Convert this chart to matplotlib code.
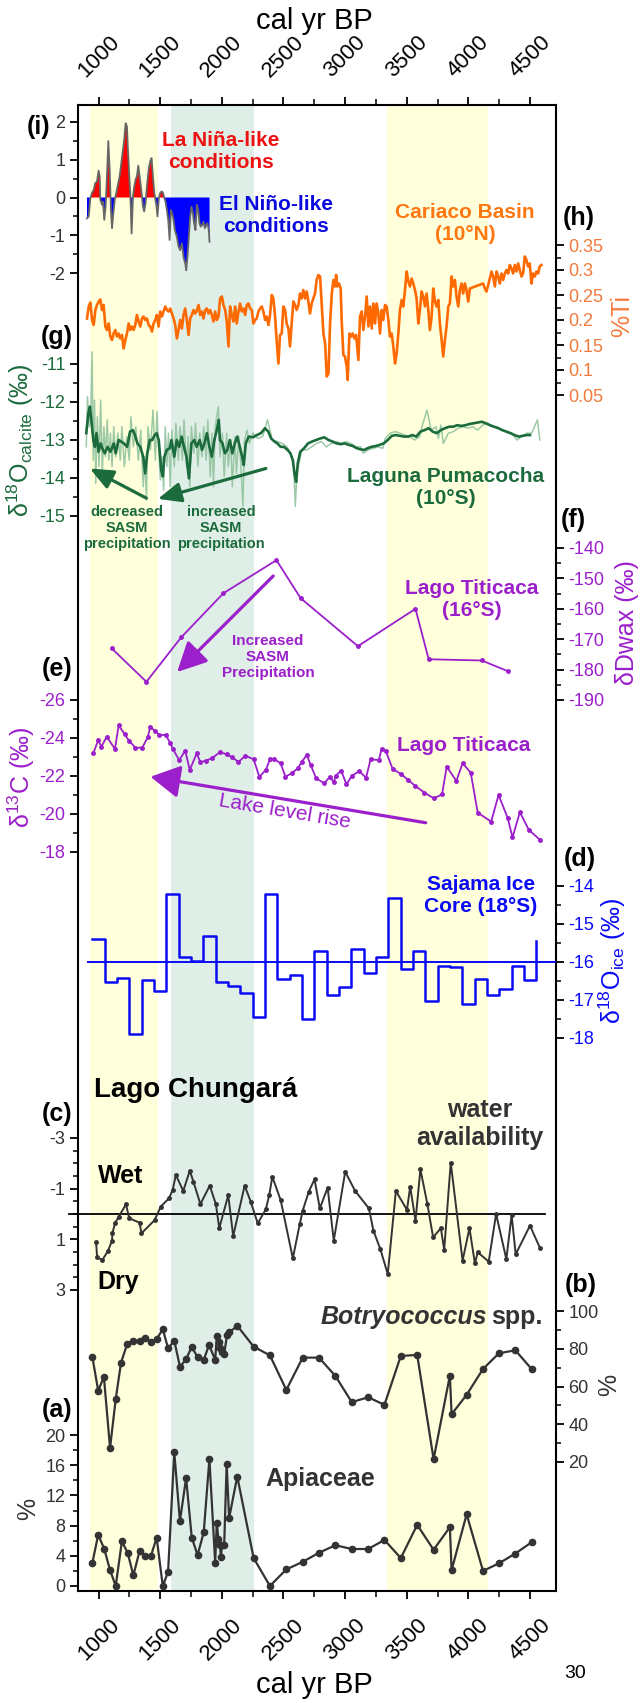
import matplotlib
matplotlib.use("Agg")
import matplotlib.pyplot as plt
import numpy as np

plt.rcParams['font.family'] = ['Liberation Sans', 'DejaVu Sans']
plt.rcParams['mathtext.fontset'] = 'custom'
plt.rcParams['mathtext.rm'] = 'Liberation Sans'
plt.rcParams['mathtext.it'] = 'Liberation Sans:italic'
plt.rcParams['mathtext.bf'] = 'Liberation Sans:bold'
plt.rcParams['axes.unicode_minus'] = False

# ---- data (cal yr BP) ----
# shaded intervals
yellow_bands = [(927, 1486), (3342, 4160)]
green_bands = [(1587, 2259)]

# (i) ENSO-like index
enso_yr = [906, 920, 933, 946, 960, 973, 987, 1000, 1009, 1014, 1028, 1036, 1046, 1057, 1068, 1079, 1090, 1100, 1109, 1122,
           1133, 1144, 1154, 1171, 1181, 1198, 1208, 1219, 1230, 1238, 1249, 1257, 1268, 1279, 1289, 1300, 1311, 1322, 1333, 1343,
           1352, 1360, 1370, 1381, 1392, 1406, 1419, 1430, 1441, 1452, 1468, 1478, 1489, 1500, 1511, 1522, 1532, 1543, 1554, 1565,
           1576, 1586, 1597, 1608, 1619, 1635, 1649, 1662, 1676, 1689, 1703, 1711, 1721, 1732, 1743, 1754, 1765, 1775, 1786, 1797,
           1808, 1819, 1829, 1840, 1851, 1862, 1873, 1883, 1894, 1900]
enso_val = [-0.55, -0.50, -0.02, 0.12, 0.20, 0.38, 0.42, 0.71, 0.56, -0.06, -0.19, -0.11, -0.59, -0.24, 0.56, 1.49, 0.73, -0.33, -0.81, -0.33,
            -0.02, 0.12, 0.29, 0.56, 0.82, 1.27, 1.53, 1.96, 1.88, 1.27, 0.56, 0.12, -0.95, 0.03, 0.29, 0.47, 0.56, 0.84, 0.56, 0.29,
            0.03, -0.24, -0.37, -0.15, 0.29, 0.73, 0.96, 1.04, 0.56, 0.12, -0.19, -0.50, -0.02, 0.12, 0.16, 0.13, 0.01, -0.11, -0.33, -0.59,
            -1.12, -0.33, -0.42, -0.59, -0.86, -1.04, -1.30, -1.39, -1.21, -1.57, -1.74, -1.92, -1.57, -1.04, -0.50, -0.24, -0.42, -0.68, -0.86, -0.19,
            -0.33, -0.68, -0.77, -0.73, -0.64, -0.81, -0.73, -0.68, -0.86, -1.17]

# (h) Cariaco Basin %Ti
cariaco_yr = [906, 920, 933, 947, 960, 974, 987, 1001, 1014, 1028, 1041, 1055, 1068, 1082, 1095, 1109, 1122, 1136, 1149, 1163,
              1176, 1190, 1203, 1217, 1230, 1244, 1257, 1271, 1284, 1298, 1311, 1325, 1338, 1352, 1365, 1379, 1392, 1406, 1419, 1433,
              1446, 1460, 1473, 1487, 1500, 1514, 1527, 1541, 1554, 1568, 1581, 1595, 1608, 1622, 1635, 1649, 1662, 1676, 1689, 1703,
              1716, 1730, 1743, 1757, 1770, 1784, 1797, 1811, 1824, 1838, 1851, 1865, 1878, 1892, 1905, 1919, 1932, 1946, 1959, 1973,
              1986, 2000, 2013, 2027, 2040, 2054, 2067, 2081, 2094, 2108, 2121, 2135, 2148, 2162, 2175, 2189, 2202, 2216, 2229, 2243,
              2256, 2270, 2283, 2297, 2310, 2324, 2337, 2351, 2364, 2378, 2391, 2405, 2418, 2432, 2445, 2459, 2472, 2486, 2499, 2513,
              2526, 2540, 2553, 2567, 2580, 2594, 2607, 2621, 2634, 2648, 2661, 2675, 2688, 2702, 2715, 2729, 2742, 2756, 2769, 2783,
              2797, 2811, 2824, 2838, 2851, 2865, 2878, 2892, 2905, 2919, 2927, 2937, 2951, 2964, 2972, 2986, 2999, 3013, 3021, 3035,
              3048, 3062, 3075, 3089, 3108, 3121, 3135, 3148, 3162, 3175, 3189, 3202, 3216, 3229, 3243, 3256, 3270, 3283, 3297, 3310,
              3324, 3337, 3351, 3364, 3378, 3391, 3405, 3418, 3432, 3445, 3459, 3472, 3486, 3499, 3513, 3526, 3540, 3553, 3567, 3580,
              3594, 3607, 3621, 3634, 3648, 3661, 3675, 3688, 3702, 3715, 3729, 3742, 3756, 3769, 3783, 3796, 3810, 3823, 3837, 3850,
              3864, 3877, 3891, 3904, 3918, 3931, 3945, 3958, 3972, 3985, 3999, 4012, 4120, 4134, 4147, 4161, 4174, 4188, 4201, 4215,
              4228, 4242, 4255, 4269, 4282, 4296, 4309, 4323, 4336, 4350, 4363, 4377, 4390, 4404, 4417, 4431, 4444, 4458, 4471, 4485,
              4498, 4512, 4525, 4539, 4552, 4566, 4579, 4593]
cariaco_ti = [0.203, 0.227, 0.235, 0.200, 0.190, 0.220, 0.230, 0.237, 0.241, 0.220, 0.230, 0.187, 0.180, 0.193, 0.167, 0.160, 0.173, 0.180, 0.167, 0.173,
              0.163, 0.170, 0.143, 0.160, 0.173, 0.193, 0.180, 0.187, 0.180, 0.190, 0.210, 0.197, 0.187, 0.203, 0.207, 0.200, 0.203, 0.190, 0.187, 0.177,
              0.193, 0.200, 0.210, 0.187, 0.217, 0.207, 0.217, 0.227, 0.220, 0.217, 0.223, 0.213, 0.203, 0.190, 0.163, 0.180, 0.200, 0.183, 0.210, 0.223,
              0.200, 0.170, 0.203, 0.210, 0.220, 0.213, 0.219, 0.230, 0.210, 0.217, 0.203, 0.220, 0.223, 0.213, 0.220, 0.210, 0.197, 0.217, 0.200, 0.207,
              0.243, 0.247, 0.230, 0.220, 0.197, 0.147, 0.227, 0.210, 0.197, 0.227, 0.193, 0.217, 0.233, 0.217, 0.223, 0.210, 0.230, 0.233, 0.223, 0.220,
              0.193, 0.200, 0.203, 0.217, 0.223, 0.227, 0.217, 0.200, 0.207, 0.190, 0.210, 0.250, 0.243, 0.207, 0.157, 0.113, 0.170, 0.173, 0.227, 0.220,
              0.193, 0.183, 0.147, 0.193, 0.237, 0.230, 0.220, 0.230, 0.253, 0.243, 0.260, 0.243, 0.257, 0.237, 0.213, 0.233, 0.243, 0.253, 0.280, 0.290,
              0.287, 0.227, 0.173, 0.153, 0.087, 0.093, 0.193, 0.253, 0.280, 0.267, 0.290, 0.267, 0.273, 0.263, 0.200, 0.130, 0.127, 0.107, 0.080, 0.173,
              0.167, 0.173, 0.163, 0.170, 0.120, 0.207, 0.217, 0.180, 0.207, 0.247, 0.187, 0.227, 0.183, 0.233, 0.193, 0.233, 0.213, 0.173, 0.220, 0.200,
              0.230, 0.227, 0.200, 0.167, 0.173, 0.147, 0.113, 0.133, 0.173, 0.220, 0.240, 0.227, 0.260, 0.297, 0.277, 0.267, 0.283, 0.273, 0.260, 0.243,
              0.193, 0.220, 0.257, 0.247, 0.227, 0.253, 0.220, 0.180, 0.207, 0.263, 0.237, 0.227, 0.240, 0.193, 0.160, 0.127, 0.160, 0.187, 0.227, 0.233,
              0.287, 0.267, 0.280, 0.247, 0.227, 0.260, 0.273, 0.253, 0.273, 0.260, 0.237, 0.263, 0.273, 0.263, 0.257, 0.270, 0.283, 0.297, 0.287, 0.267,
              0.297, 0.287, 0.273, 0.293, 0.280, 0.293, 0.300, 0.293, 0.310, 0.303, 0.293, 0.310, 0.297, 0.313, 0.300, 0.287, 0.293, 0.327, 0.320, 0.307,
              0.313, 0.273, 0.293, 0.287, 0.297, 0.293, 0.307, 0.310]

# (g) Laguna Pumacocha d18O calcite, smoothed and raw
puma_yr = [900, 917, 930, 944, 957, 970, 983, 1000, 1017, 1030, 1050, 1073, 1096, 1123, 1139, 1163, 1182, 1206,
           1232, 1255, 1279, 1299, 1315, 1338, 1362, 1378, 1395, 1415, 1435, 1455, 1471, 1488, 1508, 1521, 1534, 1554, 1577, 1591,
           1614, 1634, 1654, 1674, 1693, 1713, 1733, 1753, 1776, 1796, 1820, 1839, 1859, 1879, 1899, 1919, 1939, 1959, 1975, 1985,
           2005, 2025, 2045, 2065, 2085, 2105, 2125, 2145, 2165, 2178, 2194, 2218, 2251, 2284, 2317, 2350, 2377, 2400, 2427, 2450,
           2477, 2503, 2533, 2556, 2576, 2589, 2603, 2616, 2636, 2666, 2699, 2732, 2765, 2798, 2832, 2865, 2898, 2931, 2964, 2997,
           3031, 3064, 3097, 3130, 3157, 3180, 3213, 3246, 3279, 3313, 3346, 3379, 3412, 3445, 3479, 3512, 3545, 3578, 3611, 3644,
           3678, 3711, 3744, 3777, 3810, 3844, 3877, 3910, 3943, 3976, 4009, 4043, 4076, 4109, 4142, 4175, 4208, 4242, 4275, 4308,
           4341, 4374, 4408, 4441, 4474, 4500]
puma_d18o = [-12.82, -12.30, -12.12, -12.56, -13.00, -13.18, -12.82, -13.31,
             -13.09, -13.22, -13.35, -13.18, -13.31, -13.09, -13.35, -13.00, -13.04, -13.09,
             -13.18, -12.78, -12.74, -12.91, -13.09, -13.18, -13.44, -13.88, -13.35, -13.00,
             -13.00, -12.87, -12.82, -13.00, -13.79, -13.96, -13.44, -13.26, -13.22, -13.00,
             -13.44, -13.00, -13.18, -12.91, -13.18, -13.44, -14.01, -13.09, -13.00, -13.18,
             -13.00, -13.26, -13.09, -12.82, -13.18, -13.44, -13.00, -12.74, -12.47, -13.00,
             -13.09, -13.35, -13.26, -13.00, -13.35, -13.09, -12.91, -13.18, -13.44, -13.66,
             -13.09, -12.91, -12.93, -12.87, -12.82, -12.69, -12.78, -12.96, -13.04, -13.09,
             -13.18, -13.18, -13.26, -13.35, -13.53, -13.88, -14.10, -13.61, -13.31, -13.22,
             -13.09, -13.04, -13.00, -12.96, -12.93, -13.00, -13.04, -13.09, -13.11, -13.09,
             -13.13, -13.16, -13.22, -13.25, -13.26, -13.22, -13.18, -13.16, -13.13, -13.09,
             -13.00, -12.89, -12.87, -12.89, -12.91, -12.91, -12.87, -12.91, -12.78, -12.74,
             -12.69, -12.78, -12.82, -12.74, -12.69, -12.65, -12.65, -12.61, -12.63, -12.61,
             -12.58, -12.56, -12.54, -12.52, -12.56, -12.61, -12.65, -12.69, -12.74, -12.78,
             -12.82, -12.87, -12.91, -12.89, -12.87, -12.87]
puma_raw_yr = [900, 910, 924, 937, 947, 957, 967, 977, 990, 1003, 1017, 1030, 1043, 1056, 1070, 1083, 1096, 1109, 1123, 1139,
               1156, 1176, 1189, 1209, 1229, 1249, 1262, 1282, 1302, 1322, 1342, 1362, 1375, 1388, 1401, 1421, 1441, 1461, 1474, 1488,
               1501, 1514, 1528, 1541, 1554, 1567, 1581, 1594, 1614, 1627, 1647, 1660, 1680, 1693, 1713, 1727, 1740, 1753, 1773, 1786,
               1806, 1820, 1839, 1853, 1873, 1886, 1906, 1919, 1932, 1946, 1959, 1972, 1985, 2005, 2019, 2039, 2052, 2072, 2085, 2105,
               2118, 2138, 2151, 2171, 2185, 2204, 2224, 2251, 2291, 2331, 2370, 2410, 2450, 2490, 2530, 2569, 2583, 2596, 2609, 2649,
               2689, 2729, 2768, 2808, 2848, 2888, 2928, 2968, 3007, 3047, 3087, 3127, 3147, 3187, 3226, 3266, 3306, 3326, 3366, 3406,
               3445, 3485, 3525, 3565, 3605, 3624, 3664, 3698, 3737, 3757, 3777, 3797, 3837, 3877, 3917, 3956, 3996, 4036, 4076, 4115,
               4155, 4195, 4235, 4275, 4315, 4355, 4394, 4434, 4474, 4514, 4560, 4580]
puma_raw = [-13.18, -11.86, -12.65, -12.21, -10.68, -13.53, -11.95, -14.14, -12.39, -13.70,
            -11.95, -13.88, -12.65, -13.44, -12.47, -13.53, -12.82, -13.70, -12.65, -13.44,
            -12.82, -13.53, -12.65, -13.70, -12.91, -13.53, -12.39, -13.18, -12.65, -13.53,
            -12.74, -14.23, -13.44, -14.58, -12.65, -13.26, -12.21, -13.53, -12.25, -13.26,
            -14.05, -13.44, -14.32, -12.65, -13.70, -12.82, -14.23, -12.74, -13.70, -12.56,
            -13.53, -12.65, -13.53, -12.47, -13.70, -12.91, -14.23, -12.65, -13.35, -12.56,
            -13.70, -12.82, -13.44, -12.65, -13.53, -12.47, -13.96, -12.82, -14.23, -12.65,
            -12.39, -12.12, -13.44, -12.82, -13.96, -12.82, -13.70, -13.00, -14.23, -12.91,
            -13.88, -12.91, -13.44, -14.75, -13.00, -12.74, -13.09, -12.82, -12.96, -12.91,
            -12.47, -13.00, -13.04, -13.09, -13.18, -13.44, -13.70, -14.75, -13.88, -13.26,
            -13.26, -13.18, -13.09, -13.04, -13.18, -13.09, -13.04, -13.09, -13.04, -13.09,
            -13.18, -13.18, -13.35, -13.26, -13.22, -13.18, -13.22, -12.96, -12.82, -12.78,
            -12.82, -12.87, -12.91, -13.00, -12.91, -12.65, -12.21, -12.74, -12.65, -12.96,
            -12.61, -13.09, -12.82, -12.78, -12.69, -12.65, -12.69, -12.65, -12.74, -12.61,
            -12.56, -12.65, -12.65, -12.74, -12.78, -12.82, -13.00, -12.91, -12.82, -12.82,
            -12.47, -13.00]

# (f) Lago Titicaca dD wax
dwax_yr = [1106, 1388, 1670, 2012, 2443, 2639, 3104, 3571, 3678, 4109, 4325]
dwax_val = [-173.0, -184.0, -169.4, -154.9, -144.0, -156.5, -172.3, -160.0, -176.6, -177.0, -180.6]

# (e) Lago Titicaca d13C
d13c_yr = [957, 997, 1023, 1066, 1133, 1163, 1212, 1249, 1299, 1355, 1398, 1421, 1455, 1494, 1544, 1581, 1604, 1654, 1703, 1740,
           1796, 1826, 1869, 1919, 1985, 2039, 2085, 2135, 2191, 2258, 2304, 2357, 2390, 2423, 2477, 2516, 2566, 2616, 2649, 2689,
           2722, 2765, 2832, 2875, 2908, 2924, 2968, 3011, 3054, 3114, 3170, 3207, 3273, 3296, 3329, 3386, 3452, 3512, 3571, 3644,
           3721, 3787, 3824, 3903, 3953, 4019, 4076, 4185, 4245, 4318, 4358, 4418, 4491, 4583]
d13c_val = [-23.19, -23.89, -23.54, -24.07, -23.42, -24.67, -24.19, -23.84, -23.49, -23.49, -24.04, -24.60, -24.37, -24.16, -24.16, -23.75, -23.40, -22.84, -23.33, -22.32,
            -23.19, -22.72, -22.81, -22.93, -23.26, -23.14, -22.98, -22.74, -23.07, -22.88, -21.96, -22.32, -22.88, -22.89, -22.67, -21.96, -22.14, -22.40, -22.75, -23.11,
            -22.56, -21.88, -21.61, -21.96, -21.67, -22.02, -22.28, -21.56, -22.00, -22.26, -21.91, -22.88, -22.84, -23.40, -23.33, -22.37, -22.11, -21.79, -21.47, -21.12,
            -20.82, -21.04, -22.49, -21.74, -22.67, -22.18, -20.07, -19.60, -21.00, -19.81, -18.77, -20.09, -19.16, -18.63]

# (d) Sajama ice core d18O (100-yr bins)
ice_yr = [950, 1050, 1150, 1250, 1350, 1450, 1550, 1650, 1750, 1850, 1950, 2050, 2150, 2250, 2350, 2450, 2550, 2650, 2750,
          2850, 2950, 3050, 3150, 3250, 3350, 3450, 3550, 3650, 3750, 3850, 3950, 4050, 4150, 4250, 4350, 4450, 4550]
ice_val = [-15.40, -16.52, -16.41, -17.90, -16.48, -16.76, -14.20, -15.86, -15.97, -15.32, -16.52, -16.63, -16.82, -17.44,
           -14.20, -16.45, -16.35, -17.50, -15.70, -16.87, -16.67, -15.66, -16.30, -15.86, -14.31, -16.18, -15.71, -17.03,
           -16.10, -16.12, -17.11, -16.46, -16.87, -16.71, -16.10, -16.47, -15.45]
ice_mean = -16.0

# (c) Lago Chungara water availability
chung_yr = [980, 988, 1030, 1076, 1109, 1112, 1133, 1163, 1222, 1249, 1332, 1348, 1455, 1504, 1571, 1601, 1627, 1687, 1740, 1770,
            1826, 1902, 1952, 1979, 2052, 2092, 2185, 2234, 2291, 2357, 2384, 2410, 2477, 2576, 2632, 2656, 2705, 2752, 2795, 2858,
            2908, 3001, 3080, 3193, 3230, 3286, 3346, 3412, 3502, 3528, 3571, 3611, 3668, 3714, 3777, 3804, 3857, 3953, 4009, 4053,
            4076, 4165, 4225, 4308, 4351, 4384, 4500, 4580]
chung_val = [1.12, 1.71, 1.82, 1.46, 1.05, 0.76, 0.37, 0.11, -0.38, 0.17, 0.34, 0.76, 0.24, -0.29, -0.62, -0.95, -1.54, -0.91, -1.71, -1.27,
             -0.39, -1.12, -0.38, 0.56, -0.74, 0.87, -1.12, -0.49, 0.37, -0.19, -0.74, -1.47, -0.55, 1.75, 0.40, -0.13, -0.88, -1.37, -0.22, -1.04,
             1.05, -1.67, -0.92, -0.22, 0.66, 1.39, 2.37, -0.91, -0.16, -1.08, 0.26, -1.76, -0.38, 0.92, 0.56, 1.42, -2.03, 1.84, 0.56, 1.95,
             1.51, 1.88, 0.00, 1.78, 0.04, 1.59, 0.46, 1.33]

# (b) Botryococcus spp. %
botry_yr = [950, 997, 1043, 1093, 1139, 1182, 1232, 1282, 1332, 1378, 1425, 1471, 1521, 1564, 1614, 1660, 1710, 1756, 1803, 1853,
            1896, 1946, 1959, 1975, 1985, 2002, 2019, 2042, 2062, 2125, 2258, 2390, 2523, 2656, 2788, 2921, 3054, 3187, 3319, 3452,
            3585, 3718, 3850, 3864, 3986, 4119, 4248, 4381, 4514]
botry_pct = [75.5, 57.7, 65.2, 27.4, 53.3, 72.6, 82.5, 84.1, 84.3, 85.5, 83.8, 85.2, 90.3, 80.2, 84.3, 70.5, 74.4, 81.1, 75.5, 74.1,
             82.0, 74.1, 86.8, 83.8, 80.3, 78.5, 77.2, 87.3, 88.7, 92.2, 81.1, 76.5, 58.2, 75.3, 75.3, 65.6, 51.7, 54.3, 50.3, 76.2,
             76.7, 21.5, 65.8, 45.3, 55.6, 69.3, 77.6, 79.2, 69.2]

# (a) Apiaceae %
apia_yr = [950, 997, 1046, 1093, 1139, 1189, 1236, 1282, 1332, 1378, 1425, 1471, 1521, 1564, 1614, 1660, 1710, 1756, 1803, 1853,
           1899, 1946, 1959, 1972, 1985, 1992, 2002, 2019, 2039, 2059, 2125, 2258, 2390, 2523, 2656, 2788, 2921, 3054, 3187, 3319,
           3452, 3585, 3718, 3850, 3864, 3986, 4119, 4248, 4381, 4514]
apia_pct = [3.1, 6.8, 4.9, 2.1, 0.0, 5.9, 4.4, 1.4, 4.6, 4.0, 4.0, 6.4, 0.0, 1.9, 17.7, 8.6, 14.3, 6.4, 4.1, 7.1,
            16.8, 3.1, 8.4, 6.2, 5.4, 3.9, 5.4, 5.4, 16.2, 9.0, 14.5, 3.7, 0.0, 2.2, 3.2, 4.4, 5.4, 4.9, 4.9, 6.1,
            3.7, 8.1, 4.8, 7.8, 2.1, 9.5, 2.0, 3.0, 4.3, 5.8]

x_major = [1000, 1500, 2000, 2500, 3000, 3500, 4000, 4500]
x_minor = [1250, 1750, 2250, 2750, 3250, 3750, 4250]
XMIN, XMAX = 833, 4711

# colours
GRAY = '#333333'
ORANGE = '#FF6A00'
ORANGE_T = '#F47A3C'
GREEN = '#1C6B3C'
GREEN_L = '#93C4A0'
PURPLE = '#9B1FCB'
BLUE = '#0A0AF5'
YELLOW_BG = '#FFFFDC'
GREEN_BG = '#DFEEE6'

# ---- layout in pixels ----
W, H = 640, 1703
L, R, T, B = 78, 556, 105, 1591
rect = [L / W, 1 - B / H, (R - L) / W, (B - T) / H]

fig = plt.figure(figsize=(W / 100, H / 100), dpi=100)


def ftext(x, y, s, **kw):
    kw.setdefault('ha', 'center')
    kw.setdefault('va', 'center')
    return fig.text(x / W, 1 - y / H, s, **kw)


# main frame with the age axis
ax = fig.add_axes(rect)
ax.set_xlim(XMIN, XMAX)
ax.set_ylim(0, 1)
ax.set_yticks([])
for yb in yellow_bands:
    ax.axvspan(yb[0], yb[1], color=YELLOW_BG, lw=0)
for gb in green_bands:
    ax.axvspan(gb[0], gb[1], color=GREEN_BG, lw=0)
ax.set_xticks(x_major)
ax.set_xticklabels([str(v) for v in x_major])
ax.set_xticks(x_minor, minor=True)
ax.tick_params(axis='x', which='both', direction='out', top=True, bottom=True,
               labeltop=True, labelbottom=True, labelsize=16, labelrotation=45, pad=11)
ax.tick_params(axis='x', which='major', length=6, width=1.3)
ax.tick_params(axis='x', which='minor', length=4, width=1.1)
for s in ax.spines.values():
    s.set_linewidth(1.5)

ftext(314, 21, 'cal yr BP', fontsize=21)
ftext(314, 1685, 'cal yr BP', fontsize=21)
ftext(575, 1673, '30', fontsize=14)


def panel(side, v1, p1, v2, p2, majors, labels, minors, col):
    a = fig.add_axes(rect)
    a.set_xlim(XMIN, XMAX)
    k = (v2 - v1) / (p2 - p1)
    a.set_ylim(v1 + (B - p1) * k, v1 + (T - p1) * k)
    a.patch.set_visible(False)
    for s in a.spines.values():
        s.set_visible(False)
    a.set_xticks([])
    a.yaxis.set_ticks_position(side)
    a.set_yticks(majors)
    a.set_yticklabels(labels)
    a.set_yticks(minors, minor=True)
    a.tick_params(axis='y', which='major', direction='out', length=6, width=1.3,
                  labelsize=13, labelcolor=col, pad=3)
    a.tick_params(axis='y', which='minor', direction='out', length=3.5, width=1.1)
    return a


# (i) ENSO
axi = panel('left', 2, 121.7, -2, 273.3, [2, 1, 0, -1, -2], ['2', '1', '0', '-1', '-2'],
            [1.5, 0.5, -0.5, -1.5], GRAY)
ex = np.array(enso_yr)
ev = np.array(enso_val)
axi.fill_between(ex, ev, 0, where=ev >= 0, interpolate=True, color='#FF0000', lw=0)
axi.fill_between(ex, ev, 0, where=ev <= 0, interpolate=True, color='#0000FF', lw=0)
axi.plot(ex, ev, color='#666666', lw=1.3)
ftext(221, 151, 'La Niña-like\nconditions', color='#EE1111', fontsize=15, fontweight='bold')
ftext(276, 215, 'El Niño-like\nconditions', color='#0A0AE0', fontsize=15, fontweight='bold')
ftext(39, 127, '(i)', fontsize=18, fontweight='bold')

# (h) Cariaco
axh = panel('right', 0.35, 245, 0.05, 395, [0.35, 0.3, 0.25, 0.2, 0.15, 0.1, 0.05],
            ['0.35', '0.3', '0.25', '0.2', '0.15', '0.1', '0.05'],
            [0.325, 0.275, 0.225, 0.175, 0.125, 0.075], ORANGE_T)
axh.plot(cariaco_yr, cariaco_ti, color=ORANGE, lw=1.9)
ftext(465, 223, 'Cariaco Basin\n(10°N)', color='#FF7711', fontsize=15, fontweight='bold')
ftext(579, 218, '(h)', fontsize=18, fontweight='bold')
ftext(622, 316, '%Ti', color=ORANGE_T, fontsize=18, rotation=90)

# (g) Pumacocha
axg = panel('left', -11, 364, -15, 516, [-11, -12, -13, -14, -15], ['-11', '-12', '-13', '-14', '-15'],
            [-11.5, -12.5, -13.5, -14.5], GREEN)
axg.plot(puma_raw_yr, puma_raw, color=GREEN_L, lw=1.1, alpha=0.9)
axg.plot(puma_yr, puma_d18o, color=GREEN, lw=1.9)
ftext(446, 487, 'Laguna Pumacocha\n(10°S)', color=GREEN, fontsize=15, fontweight='bold')
ftext(127, 528, 'decreased\nSASM\nprecipitation', color=GREEN, fontsize=10.5, fontweight='bold')
ftext(221, 528, 'increased\nSASM\nprecipitation', color=GREEN, fontsize=10.5, fontweight='bold')
green_arrow = dict(arrowstyle='-|>,head_length=0.7,head_width=0.3', color=GREEN, lw=2.3,
                   shrinkA=0, shrinkB=0, mutation_scale=20)
axg.annotate('', xy=(930, -13.75), xytext=(1388, -14.53), arrowprops=green_arrow, annotation_clip=False)
axg.annotate('', xy=(1481, -14.55), xytext=(2357, -13.75), arrowprops=green_arrow, annotation_clip=False)
ftext(57, 337, '(g)', fontsize=18, fontweight='bold')
ftext(20, 440, r'δ$^{18}$O$_{\mathrm{calcite}}$ (‰)', color=GREEN, fontsize=18, rotation=90)

# (f) Titicaca dD wax
axf = panel('right', -140, 548, -190, 700, [-140, -150, -160, -170, -180, -190],
            ['-140', '-150', '-160', '-170', '-180', '-190'],
            [-145, -155, -165, -175, -185], PURPLE)
axf.plot(dwax_yr, dwax_val, color=PURPLE, lw=1.3, marker='o', ms=2.5)
ftext(472, 600, 'Lago Titicaca\n(16°S)', color=PURPLE, fontsize=15, fontweight='bold')
ftext(268, 657, 'Increased\nSASM\nPrecipitation', color=PURPLE, fontsize=11, fontweight='bold')
axf.annotate('', xy=(1637, -180.8), xytext=(2417, -149.2),
             arrowprops=dict(arrowstyle='-|>,head_length=0.9,head_width=0.45', color=PURPLE, lw=2.3,
                             shrinkA=0, shrinkB=0, mutation_scale=20), annotation_clip=False)
ftext(573, 520, '(f)', fontsize=18, fontweight='bold')
ftext(627, 623, 'δDwax (‰)', color=PURPLE, fontsize=18, rotation=90)

# (e) Titicaca d13C
axe = panel('left', -26, 700, -18, 852, [-26, -24, -22, -20, -18], ['-26', '-24', '-22', '-20', '-18'],
            [-25, -23, -21, -19], PURPLE)
axe.plot(d13c_yr, d13c_val, color=PURPLE, lw=1.3, marker='o', ms=2.5)
ftext(464, 746, 'Lago Titicaca', color=PURPLE, fontsize=15, fontweight='bold')
axe.annotate('', xy=(1421, -21.96), xytext=(3654, -19.54),
             arrowprops=dict(arrowstyle='-|>,head_length=0.9,head_width=0.5', color=PURPLE, lw=2.3,
                             shrinkA=0, shrinkB=0, mutation_scale=20), annotation_clip=False)
ftext(285, 812, 'Lake level rise', color=PURPLE, fontsize=15, rotation=-9.5)
ftext(57, 669, '(e)', fontsize=18, fontweight='bold')
ftext(21, 777, r'δ$^{13}$C (‰)', color=PURPLE, fontsize=18, rotation=90)

# (d) Sajama
axd = panel('right', -14, 886, -18, 1038, [-14, -15, -16, -17, -18], ['-14', '-15', '-16', '-17', '-18'],
            [-14.5, -15.5, -16.5, -17.5], BLUE)
axd.plot(ice_yr, ice_val, drawstyle='steps-post', color=BLUE, lw=1.8)
axd.plot([917, XMAX], [ice_mean, ice_mean], color=BLUE, lw=1.4)
ftext(481, 895, 'Sajama Ice\nCore (18°S)', color=BLUE, fontsize=15, fontweight='bold')
ftext(580, 859, '(d)', fontsize=18, fontweight='bold')
ftext(612, 961, r'δ$^{18}$O$_{\mathrm{ice}}$ (‰)', color=BLUE, fontsize=18, rotation=90)

# (c) Chungara
axc = panel('left', -3, 1138, 3, 1290, [-3, -1, 1, 3], ['-3', '-1', '1', '3'],
            [-2.5, -2, -1.5, -0.5, 0, 0.5, 1.5, 2, 2.5], GRAY)
axc.plot([760, 4623], [0, 0], color='black', lw=1.3, clip_on=False)
axc.plot(chung_yr, chung_val, color=GRAY, lw=1.4, marker='o', ms=2.5)
ftext(94, 1090, 'Lago Chungará', fontsize=20, fontweight='bold', ha='left')
ftext(480, 1124, 'water\navailability', color=GRAY, fontsize=18, fontweight='bold')
ftext(98, 1176, 'Wet', color='black', fontsize=18, fontweight='bold', ha='left')
ftext(97, 1282, 'Dry', color='black', fontsize=18, fontweight='bold', ha='left')
ftext(57, 1114, '(c)', fontsize=18, fontweight='bold')

# (b) Botryococcus
axb = panel('right', 100, 1311, 20, 1462, [100, 80, 60, 40, 20], ['100', '80', '60', '40', '20'],
            [90, 70, 50, 30], GRAY)
axb.plot(botry_yr, botry_pct, color=GRAY, lw=1.6, marker='o', ms=4.5)
t_spp = ftext(543, 1317, 'spp.', color=GRAY, fontsize=18, fontweight='bold', ha='right')
fig.canvas.draw()
bb = t_spp.get_window_extent()
fig.text((bb.x0 - 5) / W, 1 - 1317 / H, 'Botryococcus', color=GRAY, fontsize=18, fontweight='bold',
         style='italic', ha='right', va='center')
ftext(581, 1285, '(b)', fontsize=18, fontweight='bold')
ftext(609, 1385, '%', color=GRAY, fontsize=18, rotation=90)

# (a) Apiaceae
axa = panel('left', 0, 1586, 20, 1435, [0, 4, 8, 12, 16, 20], ['0', '4', '8', '12', '16', '20'],
            [2, 6, 10, 14, 18], GRAY)
axa.plot(apia_yr, apia_pct, color=GRAY, lw=1.6, marker='o', ms=4.5)
ftext(320, 1479, 'Apiaceae', color=GRAY, fontsize=18, fontweight='bold')
ftext(57, 1410, '(a)', fontsize=18, fontweight='bold')
ftext(28, 1509, '%', color=GRAY, fontsize=18, rotation=90)

fig.savefig('out.png', dpi=100)
